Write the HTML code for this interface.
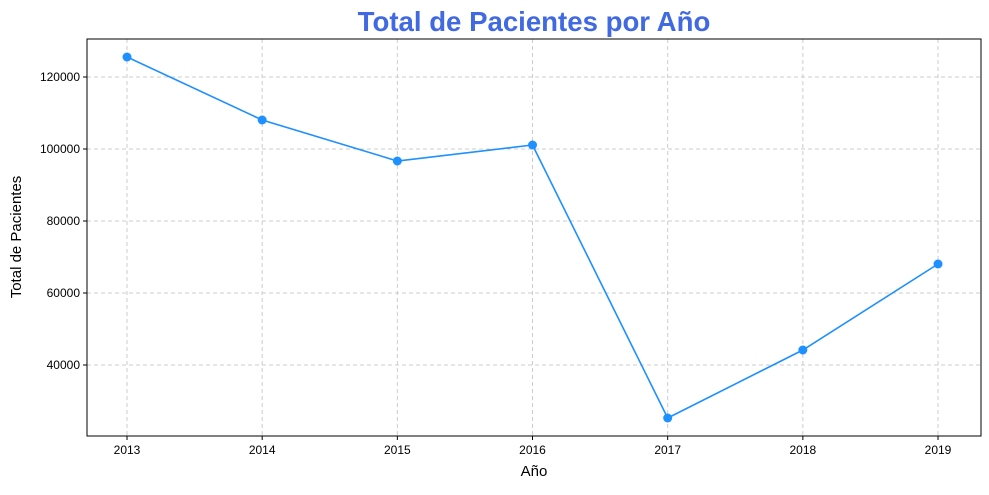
<!DOCTYPE html>
<html><head><meta charset="utf-8"><style>
body{margin:0;background:#fff;}
svg text{font-family:"Liberation Sans",Arial,sans-serif;}
</style></head><body>
<svg id="chart" width="989" height="490" xmlns="http://www.w3.org/2000/svg">
<text x="534" y="31" text-anchor="middle" font-size="27.6" font-weight="bold" fill="#4169e1">Total de Pacientes por Año</text>
<g id="grid"></g>
<g id="axes"></g>
<g id="series"></g>
<rect x="87" y="39" width="894" height="397" fill="none" stroke="#000" stroke-width="1"/>
<text x="534" y="476" text-anchor="middle" font-size="15">Año</text>
<text transform="translate(21,237) rotate(-90)" text-anchor="middle" font-size="15">Total de Pacientes</text>
</svg>
<script>
const years=[2013,2014,2015,2016,2017,2018,2019];
const patients=[125556,108056,96667,101111,25278,44167,68056];
const yTicks=[40000,60000,80000,100000,120000];
const L=87,R=981,T=39,B=436;
const x0=2012.704,x1=2019.318,y0=20278,y1=130556;
const sx=v=>L+(v-x0)/(x1-x0)*(R-L);
const sy=v=>B-(v-y0)/(y1-y0)*(B-T);
const NS="http://www.w3.org/2000/svg";
function mk(tag,attrs,parent){const e=document.createElementNS(NS,tag);for(const k in attrs)e.setAttribute(k,attrs[k]);document.getElementById(parent).appendChild(e);return e;}
years.forEach(y=>{
 const g=mk('line',{x1:sx(y),x2:sx(y),y1:T,y2:B,stroke:'#ccc','stroke-dasharray':'4,3','stroke-width':1},'grid');
 
 
 const t=mk('line',{x1:sx(y),x2:sx(y),y1:B,y2:B+4,stroke:'#000'},'axes');
 
 
 const l=mk('text',{x:sx(y),y:B+18,'text-anchor':'middle','font-size':12},'axes');l.textContent=y;
 
 
});
yTicks.forEach(v=>{
 const g=mk('line',{x1:L,x2:R,y1:sy(v),y2:sy(v),stroke:'#ccc','stroke-dasharray':'4,3','stroke-width':1},'grid');
 
 
 const t=mk('line',{x1:L-4,x2:L,y1:sy(v),y2:sy(v),stroke:'#000'},'axes');
 
 
 const l=mk('text',{x:L-7,y:sy(v)+4,'text-anchor':'end','font-size':12},'axes');l.textContent=v;
 
 
});
const pts=years.map((y,i)=>sx(y)+','+sy(patients[i])).join(' ');
const pl=mk('polyline',{points:pts,fill:'none',stroke:'#1e90ff','stroke-width':1.6},'series');


years.forEach((y,i)=>{
 const c=mk('circle',{cx:sx(y),cy:sy(patients[i]),r:4.5,fill:'#1e90ff'},'series');
 
 
});
</script>
</body></html>
